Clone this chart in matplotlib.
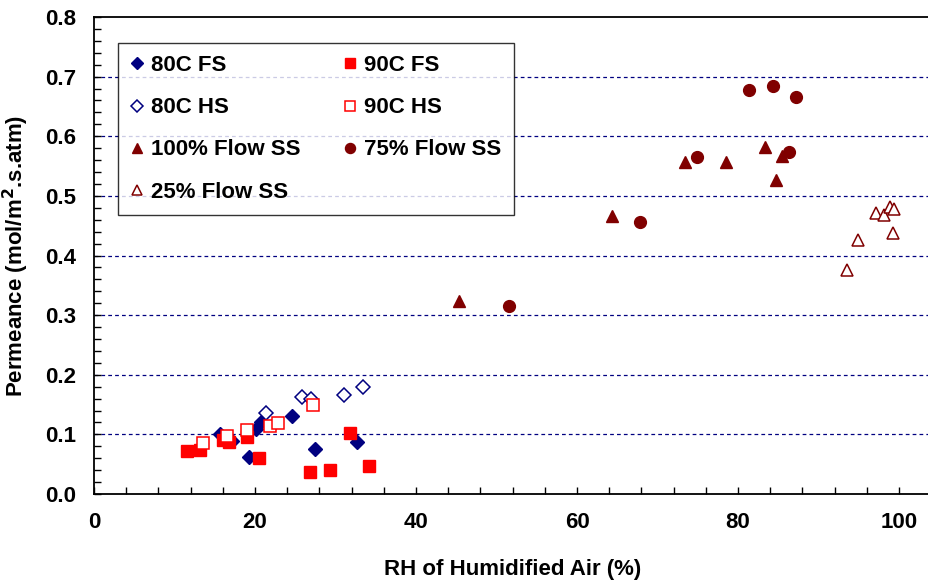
import numpy as np
import matplotlib
matplotlib.use('Agg')
import matplotlib.pyplot as plt
from matplotlib.ticker import MultipleLocator, FormatStrFormatter

plt.rcParams['font.family'] = ['Liberation Sans', 'DejaVu Sans']
plt.rcParams['font.weight'] = 'bold'

# RH of humidified air (%) and permeance (mol/m2.s.atm) per test series
fs80_rh = [15.7, 17.1, 19.3, 20.1, 20.7, 24.6, 27.4, 32.7]
fs80_perm = [0.100, 0.089, 0.062, 0.109, 0.121, 0.131, 0.076, 0.088]

fs90_rh = [11.5, 13.2, 16.0, 16.8, 19.0, 20.5, 26.8, 29.3, 31.8, 34.1]
fs90_perm = [0.072, 0.074, 0.090, 0.088, 0.096, 0.061, 0.037, 0.041, 0.102, 0.047]

hs80_rh = [21.4, 25.8, 26.9, 31.1, 33.4]
hs80_perm = [0.136, 0.162, 0.159, 0.166, 0.179]

hs90_rh = [13.5, 16.5, 19.0, 21.9, 22.8, 27.2]
hs90_perm = [0.086, 0.097, 0.107, 0.114, 0.119, 0.150]

ss100_rh = [45.4, 64.4, 73.4, 78.5, 83.4, 84.7, 85.5]
ss100_perm = [0.323, 0.466, 0.556, 0.556, 0.582, 0.527, 0.567]

ss75_rh = [51.6, 67.8, 74.9, 81.4, 84.3, 86.3, 87.2]
ss75_perm = [0.315, 0.457, 0.565, 0.678, 0.685, 0.573, 0.665]

ss25_rh = [93.5, 94.9, 97.2, 98.1, 98.9, 99.4, 99.3]
ss25_perm = [0.376, 0.426, 0.472, 0.468, 0.481, 0.478, 0.437]

navy = '#000080'
red = '#FF0000'
maroon = '#800000'

fig = plt.figure(figsize=(9.29, 5.83), dpi=100)
ax = fig.add_axes([94/929, 1 - 494/583, 8.05*104/929, 477/583])

# gridlines first so the markers sit on top
for yv in np.arange(0.1, 0.75, 0.1):
    ax.axhline(yv, color=navy, lw=0.9, ls=(0, (3, 2.5)), zorder=1)

h_fs80, = ax.plot(fs80_rh, fs80_perm, 'D', ms=7, color=navy, mec=navy,
                  ls='none', label='80C FS', zorder=3)
h_fs90, = ax.plot(fs90_rh, fs90_perm, 's', ms=8, color=red, mec=red,
                  ls='none', label='90C FS', zorder=3)
h_hs80, = ax.plot(hs80_rh, hs80_perm, 'D', ms=7, mfc='white', mec=navy,
                  mew=1.1, ls='none', label='80C HS', zorder=3)
h_hs90, = ax.plot(hs90_rh, hs90_perm, 's', ms=8, mfc='white', mec=red,
                  mew=1.1, ls='none', label='90C HS', zorder=3)
h_ss100, = ax.plot(ss100_rh, ss100_perm, '^', ms=9, color=maroon, mec=maroon,
                   ls='none', label='100% Flow SS', zorder=3)
h_ss75, = ax.plot(ss75_rh, ss75_perm, 'o', ms=8.5, color=maroon, mec=maroon,
                  ls='none', label='75% Flow SS', zorder=3)
h_ss25, = ax.plot(ss25_rh, ss25_perm, '^', ms=9, mfc='white', mec=maroon,
                  mew=1.1, ls='none', label='25% Flow SS', zorder=3)

ax.set_xlim(0, 104)
ax.set_ylim(0, 0.8)

ax.xaxis.set_major_locator(MultipleLocator(20))
ax.xaxis.set_minor_locator(MultipleLocator(4))
ax.yaxis.set_major_locator(MultipleLocator(0.1))
ax.yaxis.set_minor_locator(MultipleLocator(0.02))
ax.yaxis.set_major_formatter(FormatStrFormatter('%.1f'))

ax.tick_params(which='both', direction='in', top=False, right=False,
               width=1, colors='black')
ax.tick_params(which='major', length=5, labelsize=16, pad=13)
ax.tick_params(which='minor', length=5)
for lab in ax.get_xticklabels() + ax.get_yticklabels():
    lab.set_fontweight('bold')

for side in ['left', 'bottom', 'top']:
    ax.spines[side].set_linewidth(1.3)
ax.spines['right'].set_visible(False)

ax.set_xlabel('RH of Humidified Air (%)', fontsize=16, fontweight='bold',
              labelpad=19)
ax.set_ylabel('Permeance (mol/m$^\\mathbf{2}$.s.atm)', fontsize=16,
              fontweight='bold', labelpad=10)

handles = [h_fs80, h_hs80, h_ss100, h_ss25, h_fs90, h_hs90, h_ss75]
leg = ax.legend(handles=handles, ncol=2, loc='upper left',
                bbox_to_anchor=(118/929, 1 - 43/583),
                bbox_transform=fig.transFigure,
                prop={'weight': 'bold', 'size': 16}, markerscale=0.85,
                frameon=True, fancybox=False, edgecolor='black',
                handlelength=0.6, handletextpad=0.35, columnspacing=1.9,
                labelspacing=0.95, borderpad=0.55, borderaxespad=0)
leg.get_frame().set_linewidth(1.0)

fig.savefig('out.png', dpi=100)
